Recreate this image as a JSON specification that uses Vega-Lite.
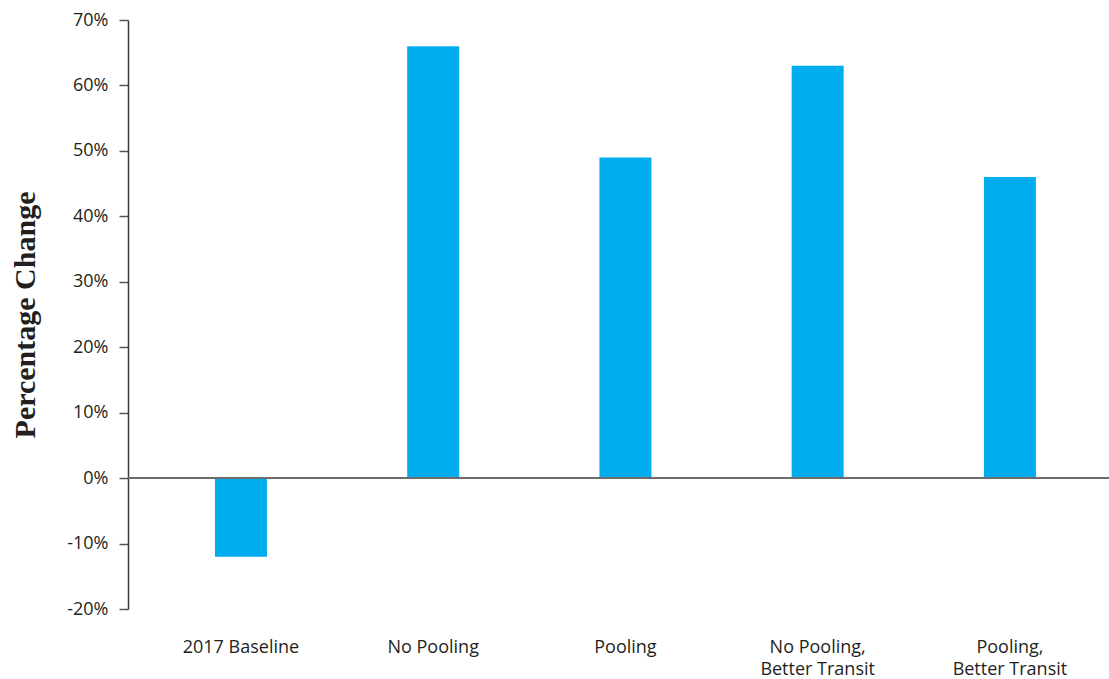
{
  "$schema": "https://vega.github.io/schema/vega-lite/v6.json",
  "autosize": {"type": "none"},
  "padding": {"left": 128, "top": 20, "right": 0, "bottom": 70},
  "width": 981,
  "height": 589,
  "background": "white",
  "config": {"view": {"stroke": null}},
  "data": {"values": [
    {"scenario": "2017 Baseline", "change": -0.12},
    {"scenario": "No Pooling", "change": 0.66},
    {"scenario": "Pooling", "change": 0.49},
    {"scenario": "No Pooling, Better Transit", "change": 0.63},
    {"scenario": "Pooling, Better Transit", "change": 0.46}
  ]},
  "layer": [
    {
      "mark": {"type": "bar", "width": 52, "color": "#00AEEF"},
      "encoding": {
        "x": {
          "field": "scenario", "type": "nominal", "sort": null,
          "scale": {"paddingInner": 0, "paddingOuter": 0.0515, "align": 0.85},
          "axis": {
            "title": null, "domain": false, "ticks": false, "labelAngle": 0,
            "labelFont": "Open Sans", "labelFontSize": 18, "labelFontWeight": 500, "labelColor": "#231f20",
            "labelPadding": 29, "labelLineHeight": 22, "labelBaseline": "top",
            "labelExpr": "indexof(datum.label, ', ') > 0 ? [slice(datum.label, 0, indexof(datum.label, ', ') + 1), slice(datum.label, indexof(datum.label, ', ') + 2)] : datum.label"
          }
        },
        "y": {
          "field": "change", "type": "quantitative",
          "scale": {"domain": [-0.2, 0.7], "nice": false, "zero": false},
          "axis": {
            "title": "Percentage Change", "values": [-0.2, -0.1, 0, 0.1, 0.2, 0.3, 0.4, 0.5, 0.6, 0.7],
            "labelExpr": "replace(format(datum.value, '.0%'), '\u2212', '-')",
            "grid": false, "domainColor": "#3a3a3a", "domainWidth": 1.5,
            "tickColor": "#555555", "tickSize": 9, "tickWidth": 1.5,
            "labelFont": "Open Sans", "labelFontSize": 18, "labelFontWeight": 500, "labelColor": "#231f20", "labelPadding": 11,
            "titleFont": "Liberation Serif", "titleFontSize": 30, "titleFontWeight": "bold",
            "titleColor": "#231f20", "titlePadding": 26
          }
        }
      }
    },
    {
      "mark": {"type": "rule", "color": "#6d6d6d", "strokeWidth": 1.5},
      "encoding": {"y": {"datum": 0}}
    }
  ]
}
